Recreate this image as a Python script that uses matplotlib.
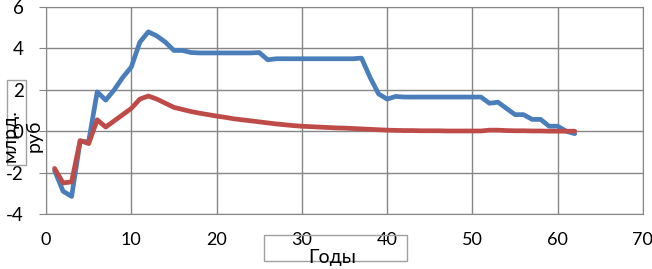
import matplotlib.pyplot as plt
from matplotlib.patches import Rectangle

plt.rcParams['font.family'] = ['Lato', 'DejaVu Sans']
plt.rcParams['axes.unicode_minus'] = False

years = list(range(1, 63))
blue = [-1.9, -2.9, -3.15, -0.5, -0.5, 1.9, 1.5, 2.0, 2.6, 3.1,
        4.3, 4.8, 4.6, 4.3, 3.9, 3.9, 3.8, 3.78, 3.78, 3.78,
        3.78, 3.78, 3.78, 3.78, 3.8, 3.45, 3.5, 3.5, 3.5, 3.5,
        3.5, 3.5, 3.5, 3.5, 3.5, 3.5, 3.53, 2.6, 1.8, 1.55,
        1.68, 1.65, 1.65, 1.65, 1.65, 1.65, 1.65, 1.65, 1.65, 1.65,
        1.65, 1.35, 1.4, 1.1, 0.8, 0.8, 0.57, 0.57, 0.24, 0.24,
        0.0, -0.12]
red = [-1.8, -2.5, -2.45, -0.45, -0.6, 0.55, 0.2, 0.5, 0.8, 1.1,
       1.55, 1.7, 1.55, 1.35, 1.15, 1.05, 0.95, 0.87, 0.8, 0.73,
       0.67, 0.6, 0.55, 0.5, 0.45, 0.4, 0.35, 0.31, 0.27, 0.24,
       0.22, 0.2, 0.18, 0.16, 0.15, 0.13, 0.11, 0.09, 0.07, 0.05,
       0.04, 0.03, 0.03, 0.02, 0.02, 0.02, 0.01, 0.01, 0.01, 0.01,
       0.01, 0.05, 0.05, 0.03, 0.02, 0.02, 0.01, 0.01, 0.0, 0.0,
       0.0, 0.0]

fig = plt.figure(figsize=(6.52, 2.69), dpi=100)
ax = fig.add_axes([0.0706, 0.2045, 0.9155, 0.7695])

ax.plot(years, blue, color="#4A7EBB", linewidth=3.4,
        solid_joinstyle="round", solid_capstyle="round")
ax.plot(years, red, color="#BE4B48", linewidth=3.4,
        solid_joinstyle="round", solid_capstyle="round")

ax.set_xlim(0, 70)
ax.set_ylim(-4, 6)
ax.set_xticks(range(0, 71, 10))
ax.set_yticks(range(-4, 7, 2))
ax.grid(color="#868686", linewidth=1)
ax.set_axisbelow(True)
for s in ax.spines.values():
    s.set_color("#868686")
ax.tick_params(axis="x", length=0, pad=13, labelsize=13)
ax.tick_params(axis="y", length=5, color="#868686", pad=11, labelsize=13.5)

# y label in a box
fig.patches.append(Rectangle((7 / 652, 1 - 165 / 269), 19 / 652, 85 / 269,
                             transform=fig.transFigure, fill=False,
                             edgecolor="#A0A0A0", linewidth=1))
fig.text(22 / 652, 1 - 136 / 269, "млрд.\nруб", rotation=90,
         ha="center", va="center", multialignment="center", fontsize=14,
         linespacing=1.45)

# x label in a box
fig.patches.append(Rectangle((264 / 652, 1 - 261 / 269), 143 / 652, 26 / 269,
                             transform=fig.transFigure, fill=False,
                             edgecolor="#A0A0A0", linewidth=1))
fig.text(332 / 652, 1 - 258 / 269, "Годы", ha="center", va="center",
         fontsize=14)

plt.savefig("out.png", dpi=100)
